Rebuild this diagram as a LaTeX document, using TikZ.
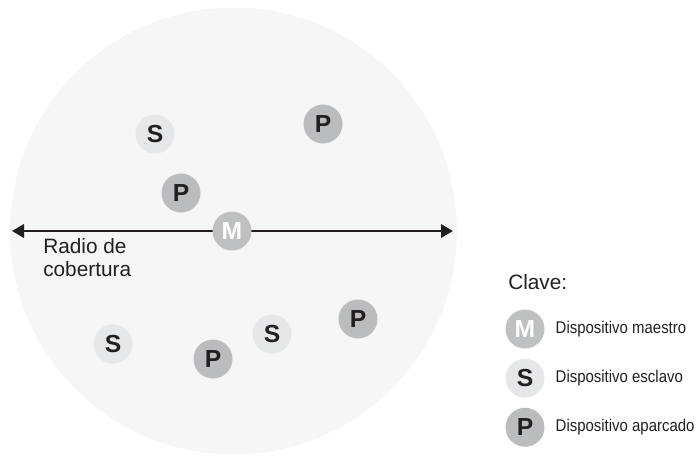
\documentclass[tikz,border=0pt]{standalone}
\usepackage{fontspec}
\setmainfont{Liberation Sans}
\newfontfamily\narrowfont[FakeStretch=0.88]{Liberation Sans}
\usepackage{tikz}
\usetikzlibrary{arrows.meta,positioning}
\definecolor{areagray}{HTML}{F6F6F6}
\definecolor{slavegray}{HTML}{E6E7E8}
\definecolor{parkgray}{HTML}{BBBCBE}
\definecolor{mastergray}{HTML}{BEC0C2}
\definecolor{inkblack}{HTML}{231F20}

\begin{document}
\begin{tikzpicture}[
  x=0.75pt, y=-0.75pt,
  dev/.style={circle, minimum size=29.25pt, inner sep=0pt, font=\fontsize{18.5}{18.5}\selectfont\bfseries},
  slave/.style={dev, fill=slavegray, text=inkblack},
  parked/.style={dev, fill=parkgray, text=inkblack},
  master/.style={dev, fill=mastergray, text=white},
  arr/.style={{Triangle[length=9pt,width=10pt]}-{Triangle[length=9pt,width=10pt]}, line width=1.9pt, draw=inkblack},
  lab/.style={font=\fontsize{15.6}{17.25}\selectfont, text=inkblack, inner sep=0pt},
  keylab/.style={font=\narrowfont\fontsize{12.75}{14}\selectfont, text=inkblack, inner sep=0pt}
]
  \useasboundingbox (0,0) rectangle (697,455);
  \fill[areagray] (233.5,231) circle[radius=167.6pt];

  \coordinate (west) at (12,231);
  \coordinate (east) at (453,231);
  \draw[arr] (west) -- (east);

  \node[slave] (s1) at (155,134) {S};
  \node[parked] (p1) at (323,124) {P};
  \node[parked] (p2) at (181,193) {P};
  \node[master] (m) at (232,231) {M};
  \node[slave] (s2) at (113,344) {S};
  \node[parked] (p3) at (213,359) {P};
  \node[slave] (s3) at (272,334) {S};
  \node[parked] (p4) at (358,319) {P};

  \node[lab, anchor=base west, align=left] (radio) at (43,276) {Radio de\\cobertura};

  \node[lab, anchor=base west] (clave) at (508,289) {Clave:};
  \node[master] (keym) at (525,329) {M};
  \node[slave, below=7.2pt of keym] (keys) {S};
  \node[parked, below=7.2pt of keys] (keyp) {P};
  \node[keylab, right=8pt of keym] {Dispositivo maestro};
  \node[keylab, right=8pt of keys] {Dispositivo esclavo};
  \node[keylab, right=8pt of keyp] {Dispositivo aparcado};
\end{tikzpicture}
\end{document}
